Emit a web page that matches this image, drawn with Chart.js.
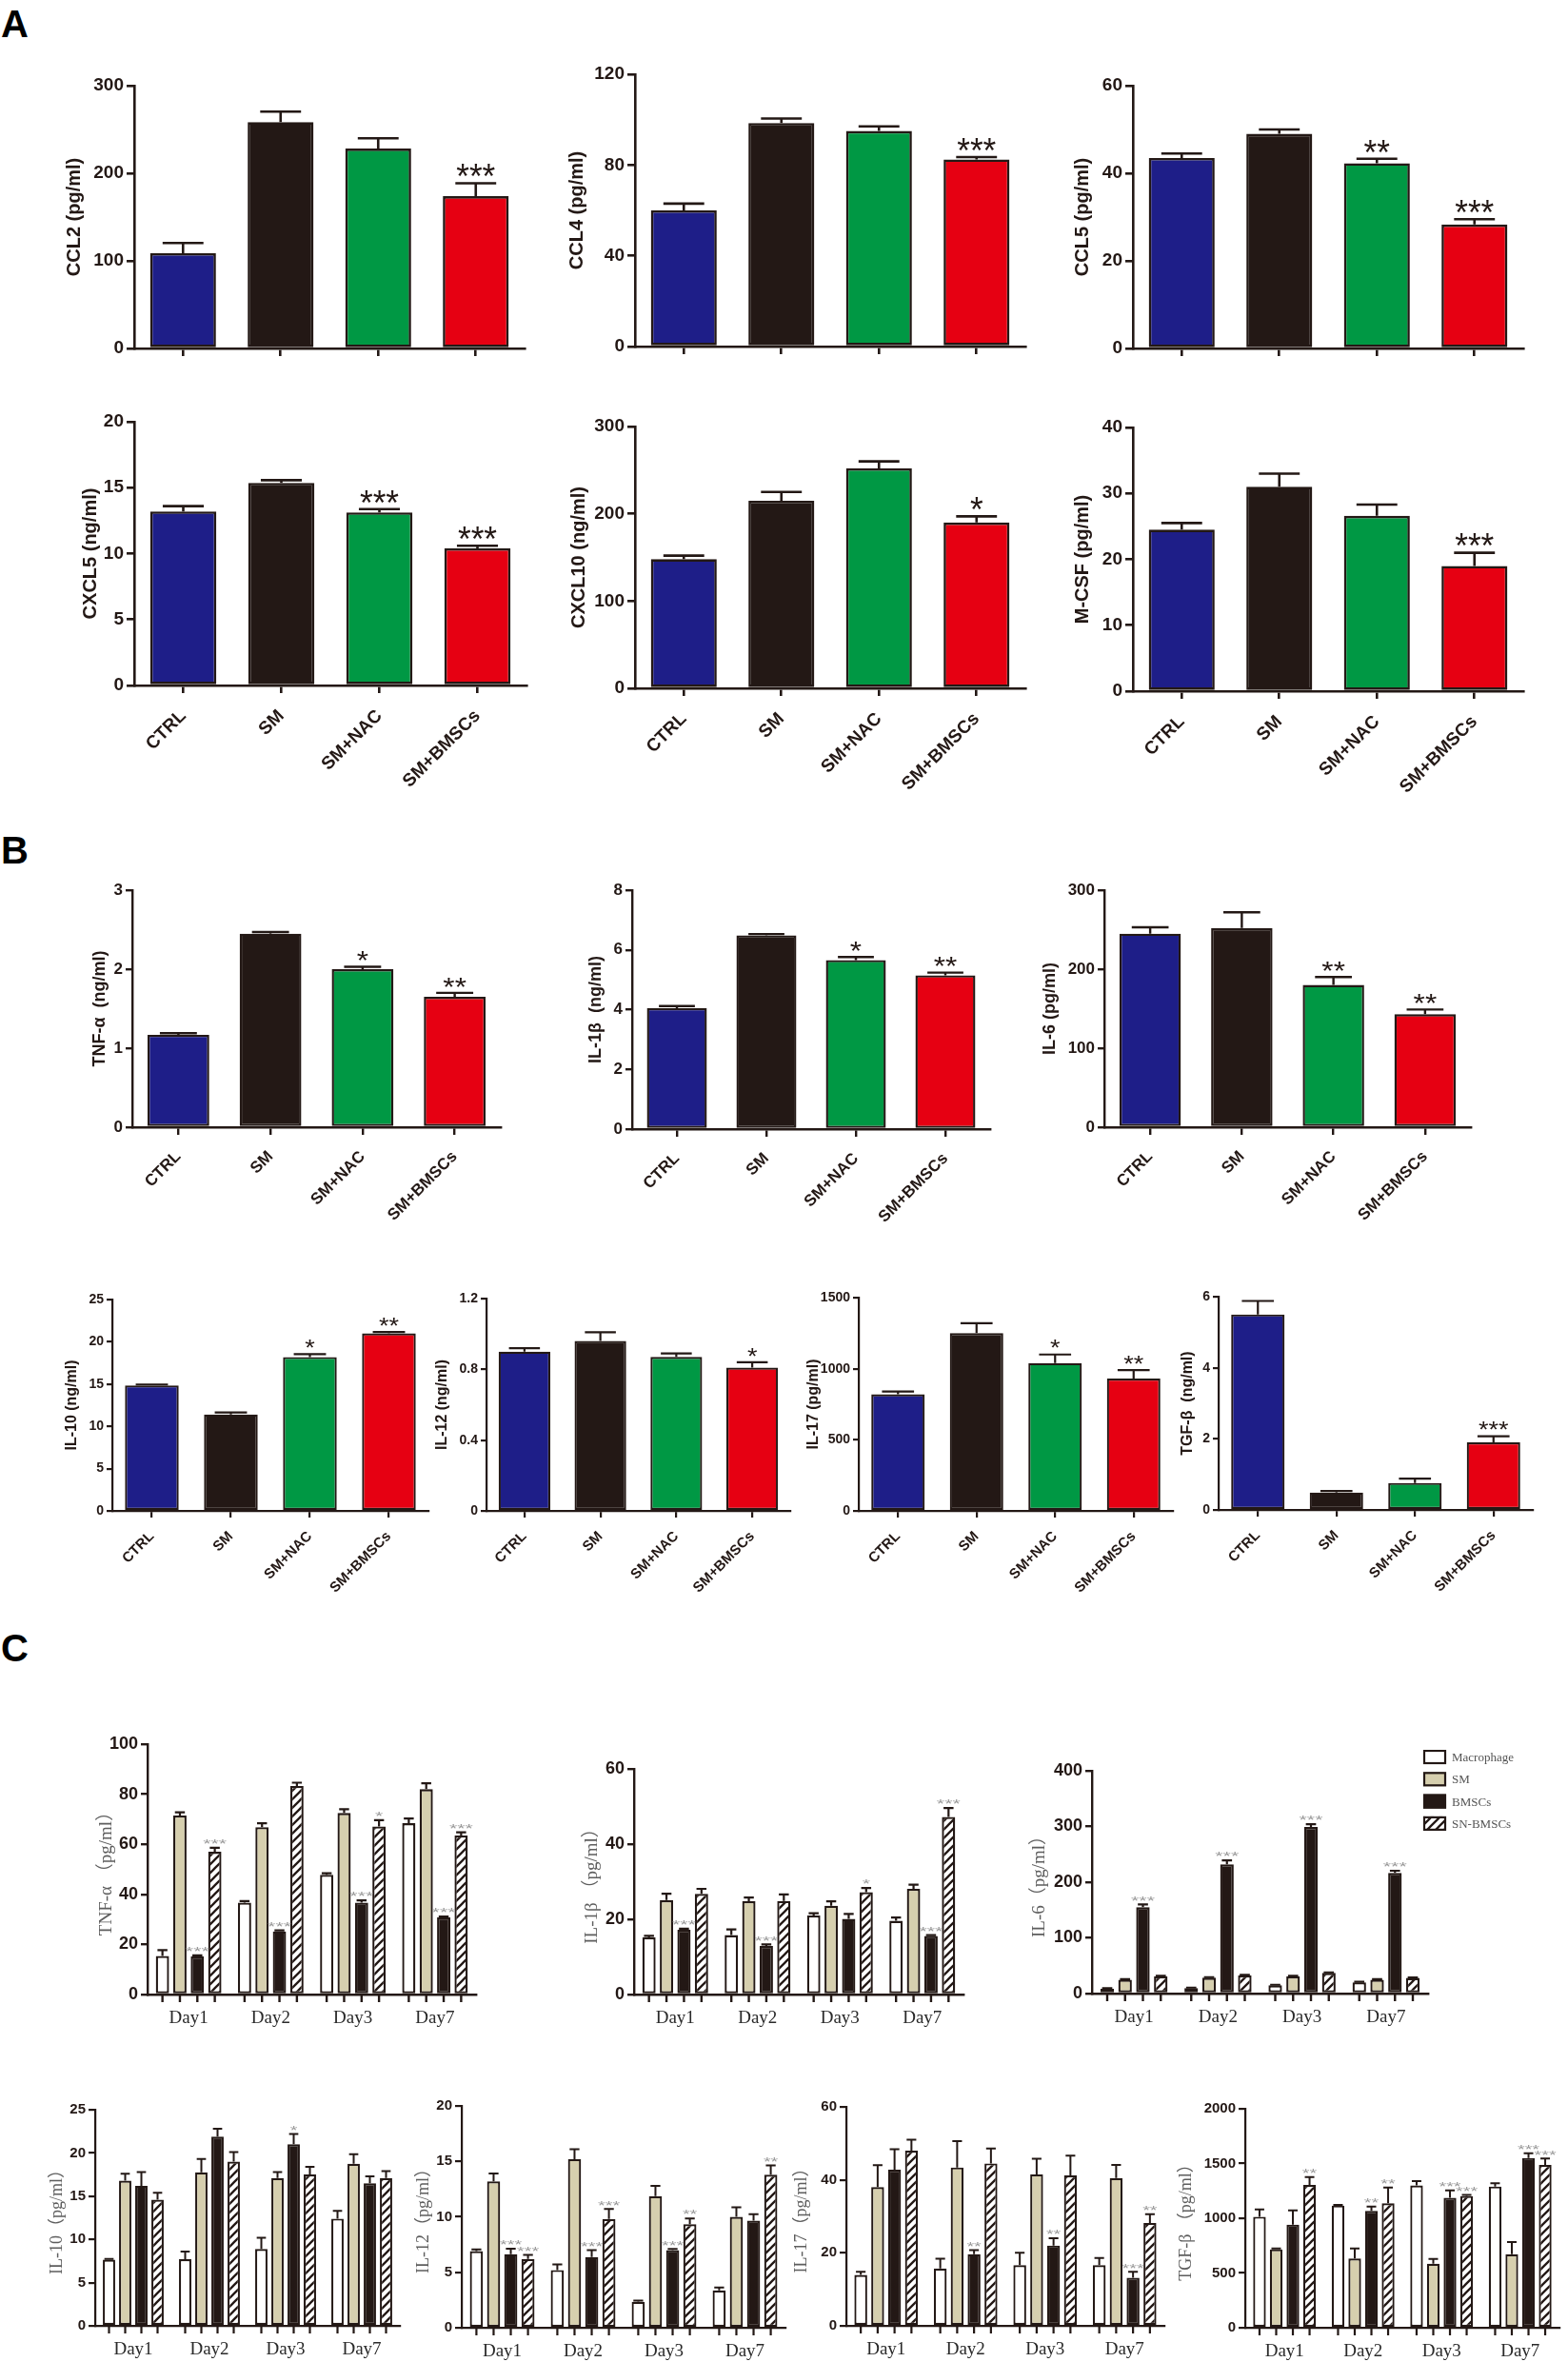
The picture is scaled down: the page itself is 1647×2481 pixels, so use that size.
<!DOCTYPE html>
<html><head><meta charset="utf-8">
<script src="https://cdn.jsdelivr.net/npm/chart.js@4.4.1/dist/chart.umd.min.js"></script>
<style>
html,body{margin:0;padding:0;background:#fff;}
#page{position:relative;width:1647px;height:2481px;overflow:hidden;background:#fff;}
.plab{position:absolute;font-family:"Liberation Sans",Arial,sans-serif;font-weight:bold;font-size:40px;line-height:40px;color:#000;}
</style></head><body>
<div id="page">
<div class="plab" style="left:1px;top:5px">A</div>
<div class="plab" style="left:1px;top:873px">B</div>
<div class="plab" style="left:1px;top:1711px">C</div>
</div>
<script>
// ---------------- DATA ----------------
const groups = ['CTRL', 'SM', 'SM+NAC', 'SM+BMSCs'];
const days = ['Day1', 'Day2', 'Day3', 'Day7'];
const cSeries = ['Macrophage', 'SM', 'BMSCs', 'SN-BMSCs'];

// Panel A
const ccl2 = [108.8, 258.3, 228.2, 173.8], ccl2Err = [11.6, 12, 11.8, 14.8], ccl2Sig = ['', '', '', '***'], ccl2Ticks = [0, 100, 200, 300];
const ccl4 = [60, 98.5, 95, 82.5], ccl4Err = [3, 2, 2, 1], ccl4Sig = ['', '', '', '***'], ccl4Ticks = [0, 40, 80, 120];
const ccl5 = [43.5, 49, 42.3, 28.3], ccl5Err = [1, 1, 1, 1.2], ccl5Sig = ['', '', '**', '***'], ccl5Ticks = [0, 20, 40, 60];
const cxcl5 = [13.2, 15.37, 13.13, 10.4], cxcl5Err = [0.4, 0.2, 0.25, 0.2], cxcl5Sig = ['', '', '***', '***'], cxcl5Ticks = [0, 5, 10, 15, 20];
const cxcl10 = [148, 215, 252, 190], cxcl10Err = [4, 10, 8, 7], cxcl10Sig = ['', '', '', '*'], cxcl10Ticks = [0, 100, 200, 300];
const mcsf = [24.5, 31, 26.6, 19], mcsfErr = [1, 2, 1.7, 2], mcsfSig = ['', '', '', '***'], mcsfTicks = [0, 10, 20, 30, 40];

// Panel B
const bTnf = [1.17, 2.45, 2.0, 1.65], bTnfErr = [0.02, 0.02, 0.03, 0.05], bTnfSig = ['', '', '*', '**'], bTnfTicks = [0, 1, 2, 3];
const bIl1b = [4.05, 6.49, 5.66, 5.15], bIl1bErr = [0.07, 0.04, 0.1, 0.09], bIl1bSig = ['', '', '*', '**'], bIl1bTicks = [0, 2, 4, 6, 8];
const bIl6 = [245, 252, 180, 143], bIl6Err = [8, 20, 10, 6], bIl6Sig = ['', '', '**', '**'], bIl6Ticks = [0, 100, 200, 300];
const bIl10 = [14.85, 11.4, 18.2, 21.0], bIl10Err = [0.1, 0.25, 0.35, 0.15], bIl10Sig = ['', '', '*', '**'], bIl10Ticks = [0, 5, 10, 15, 20, 25];
const bIl12 = [0.9, 0.96, 0.87, 0.81], bIl12Err = [0.02, 0.05, 0.02, 0.03], bIl12Sig = ['', '', '', '*'], bIl12Ticks = [0, 0.4, 0.8, 1.2];
const bIl17 = [820, 1250, 1040, 930], bIl17Err = [20, 70, 60, 60], bIl17Sig = ['', '', '*', '**'], bIl17Ticks = [0, 500, 1000, 1500];
const bTgf = [5.5, 0.49, 0.76, 1.9], bTgfErr = [0.38, 0.04, 0.12, 0.17], bTgfSig = ['', '', '', '***'], bTgfTicks = [0, 2, 4, 6];

// Panel C (rows: Macrophage, SM, BMSCs, SN-BMSCs; columns: Day1, Day2, Day3, Day7)
const cTnf = [[15.4, 36.7, 47.8, 68.4], [71.5, 66.8, 72.5, 82], [15.2, 25.2, 36.7, 30.8], [57, 83.3, 67.1, 63.5]];
const cTnfErr = [[2.3, 0.6, 0.6, 1.9], [1.3, 1.6, 1.5, 2.4], [0.4, 0.4, 0.9, 0.3], [1.6, 1.3, 2.5, 1.3]];
const cTnfSig = [['', '', '', ''], ['', '', '', ''], ['***', '***', '***', '***'], ['***', '', '*', '***']];
const cTnfTicks = [0, 20, 40, 60, 80, 100];

const cIl1b = [[15.2, 15.8, 21, 19.6], [25.1, 24.8, 23.6, 28.1], [17.2, 12.9, 20.1, 15.6], [26.8, 24.9, 27.2, 47.2]];
const cIl1bErr = [[0.4, 1.5, 0.6, 0.9], [1.7, 1.0, 1.2, 1.1], [0.3, 0.4, 1.3, 0.2], [1.3, 1.7, 1.1, 2.4]];
const cIl1bSig = [['', '', '', ''], ['', '', '', ''], ['***', '***', '', '***'], ['', '', '*', '***']];
const cIl1bTicks = [0, 20, 40, 60];

const cIl6 = [[8.5, 9.7, 14.8, 20], [25, 28.5, 30.8, 25], [155, 232, 299, 216.5], [30.8, 32.5, 37, 28]];
const cIl6Err = [[1, 1, 1, 1], [1, 1, 1, 1], [5, 7, 5, 4], [1, 1, 1, 1]];
const cIl6Sig = [['', '', '', ''], ['', '', '', ''], ['***', '***', '***', '***'], ['', '', '', '']];
const cIl6Ticks = [0, 100, 200, 300, 400];

const cIl10 = [[7.65, 7.7, 8.9, 12.4], [16.8, 17.75, 17.1, 18.75], [16.2, 21.9, 21, 16.5], [14.6, 19, 17.5, 17.1]];
const cIl10Err = [[0.1, 0.9, 1.3, 0.9], [0.8, 1.55, 0.7, 1.1], [1.6, 0.9, 1.2, 0.8], [0.8, 1.1, 0.9, 0.8]];
const cIl10Sig = [['', '', '', ''], ['', '', '', ''], ['', '', '*', ''], ['', '', '', '']];
const cIl10Ticks = [0, 5, 10, 15, 20, 25];

const cIl12 = [[6.9, 5.2, 2.34, 3.37], [13.2, 15.2, 11.86, 10], [6.63, 6.37, 7.0, 9.66], [6.2, 9.8, 9.34, 13.8]];
const cIl12Err = [[0.16, 0.5, 0.1, 0.26], [0.7, 0.9, 0.94, 0.86], [0.5, 0.63, 0.1, 0.57], [0.37, 0.9, 0.52, 0.83]];
const cIl12Sig = [['', '', '', ''], ['', '', '', ''], ['***', '***', '***', ''], ['***', '***', '**', '**']];
const cIl12Ticks = [0, 5, 10, 15, 20];

const cIl17 = [[13.95, 15.7, 16.65, 16.6], [38, 43.4, 41.5, 40.5], [42.8, 19.6, 22, 13.2], [48, 44.5, 41.2, 28.2]];
const cIl17Err = [[0.85, 2.7, 3.4, 2], [6, 7.2, 4.3, 3.6], [5.6, 1.15, 2, 1.6], [3, 4.1, 5.4, 2.4]];
const cIl17Sig = [['', '', '', ''], ['', '', '', ''], ['', '**', '**', '***'], ['', '', '', '**']];
const cIl17Ticks = [0, 20, 40, 60];

const cTgf = [[1014, 1116, 1299, 1290], [716, 632, 585, 672], [942, 1067, 1188, 1551], [1304, 1136, 1203, 1487]];
const cTgfErr = [[67, 6, 40, 29], [9, 93, 44, 111], [130, 40, 67, 43], [73, 145, 9, 58]];
const cTgfSig = [['', '', '', ''], ['', '', '', ''], ['', '**', '***', '***'], ['**', '**', '***', '***']];
const cTgfTicks = [0, 500, 1000, 1500, 2000];

// ---------------- STYLE ----------------
const INK = '#231815';
const SANS = '"Liberation Sans", Arial, sans-serif';
const SERIF = '"Liberation Serif", "Times New Roman", "Noto Sans CJK SC", serif';
const groupFills = ['#1e1e88', '#231815', '#009844', '#e60012'];
const TAN = '#d6cfae';

function hatchPattern() {
  const s = 9, c = document.createElement('canvas');
  c.width = s; c.height = s;
  const g = c.getContext('2d');
  g.fillStyle = '#fff'; g.fillRect(0, 0, s, s);
  g.strokeStyle = INK; g.lineWidth = 2.3;
  g.beginPath();
  g.moveTo(0, s); g.lineTo(s, 0);
  g.moveTo(-2, 2); g.lineTo(2, -2);
  g.moveTo(s - 2, s + 2); g.lineTo(s + 2, s - 2);
  g.stroke();
  return g.createPattern(c, 'repeat');
}
const cFills = ['#ffffff', TAN, '#231815', hatchPattern()];

const ST = {
  A:  {titleSize: 20, titleFamily: SANS, titleWeight: 'bold', titleColor: INK, tickSize: 19, xSize: 19, xFamily: SANS, xWeight: 'bold', xColor: INK,
       rot: 45, xPad: 13, xTickLen: 8, yTickLen: 8, axisW: 2.6, barBorder: 2.6, barPct: 0.675, catPct: 1, errW: 2.6, capR: 0.62,
       star: {adv: 13.7, h: 14, gap: 5, color: INK}},
  B1: {titleSize: 18, titleFamily: SANS, titleWeight: 'bold', titleColor: INK, tickSize: 17, xSize: 17, xFamily: SANS, xWeight: 'bold', xColor: INK,
       rot: 45, xPad: 13, xTickLen: 8, yTickLen: 7, axisW: 2.4, barBorder: 2.4, barPct: 0.67, catPct: 1, errW: 2.4, capR: 0.6,
       star: {adv: 12.3, h: 10.5, gap: 5, color: INK}},
  B2: {titleSize: 16, titleFamily: SANS, titleWeight: 'bold', titleColor: INK, tickSize: 14, xSize: 15, xFamily: SANS, xWeight: 'bold', xColor: INK,
       rot: 45, xPad: 11, xTickLen: 7, yTickLen: 6, axisW: 2.2, barBorder: 2.2, barPct: 0.68, catPct: 1, errW: 2.2, capR: 0.6,
       star: {adv: 10.5, h: 9, gap: 5, color: INK}},
  C1: {titleSize: 19, titleFamily: SERIF, titleWeight: 'normal', titleColor: '#5e5e5e', tickSize: 18, xSize: 19, xFamily: SERIF, xWeight: 'normal', xColor: '#2a2a2a',
       rot: 0, xPad: 14, xTickLen: 0, yTickLen: 7, axisW: 2.4, barBorder: 2.3, barPct: 0.76, catPct: 0.85, errW: 2.2, capR: 0.75, barTicks: 8,
       star: {adv: 8.3, h: 5, gap: 3, color: '#9a9a9a'}},
  C2: {titleSize: 18, titleFamily: SERIF, titleWeight: 'normal', titleColor: '#5e5e5e', tickSize: 15, xSize: 19, xFamily: SERIF, xWeight: 'normal', xColor: '#2a2a2a',
       rot: 0, xPad: 14, xTickLen: 0, yTickLen: 7, axisW: 2.2, barBorder: 2.2, barPct: 0.76, catPct: 0.85, errW: 2.0, capR: 0.75, barTicks: 8,
       star: {adv: 7.7, h: 5, gap: 3, color: '#9a9a9a'}}
};

const page = document.getElementById('page');

function drawStars(ctx, txt, cx, bottom, adv, h, color) {
  ctx.save();
  ctx.font = '40px "Liberation Sans", Arial, sans-serif';
  ctx.textAlign = 'center';
  ctx.textBaseline = 'alphabetic';
  const m = ctx.measureText(txt);
  const sx = (adv * txt.length) / m.width;
  const gh = m.actualBoundingBoxAscent + m.actualBoundingBoxDescent;
  const sy = h / gh;
  ctx.translate(cx, bottom);
  ctx.scale(sx, sy);
  ctx.fillStyle = color;
  ctx.fillText(txt, 0, -m.actualBoundingBoxDescent);
  ctx.restore();
}

function makeBar(geom, st, d) {
  const padTop = 22, padRight = geom.padRight || 8;
  const left = Math.round(geom.tx - 2 - 0.6 * st.titleSize);
  const yW = geom.ax - left;
  const top = geom.top - padTop;
  const xH = geom.xH;
  const w = geom.right - left + padRight;
  const h = padTop + (geom.zero - geom.top) + xH;
  const cv = document.createElement('canvas');
  cv.width = w; cv.height = h;
  cv.style.cssText = `position:absolute;left:${left}px;top:${top}px;width:${w}px;height:${h}px;`;
  page.appendChild(cv);

  const datasets = d.series.map(s => ({
    label: s.label, data: s.vals, backgroundColor: s.fill, borderColor: INK,
    borderWidth: st.barBorder, borderSkipped: false,
    barPercentage: st.barPct, categoryPercentage: st.catPct
  }));

  const overlay = {
    id: 'overlay',
    afterDatasetsDraw(chart) {
      const ctx = chart.ctx, ys = chart.scales.y, area = chart.chartArea;
      ctx.save();
      d.series.forEach((s, si) => {
        const meta = chart.getDatasetMeta(si);
        meta.data.forEach((el, j) => {
          const x = el.x, bw = el.width;
          const yv = ys.getPixelForValue(s.vals[j]);
          const ye = ys.getPixelForValue(s.vals[j] + s.errs[j]);
          ctx.strokeStyle = INK; ctx.lineWidth = st.errW; ctx.lineCap = 'butt';
          ctx.beginPath();
          ctx.moveTo(x, yv); ctx.lineTo(x, ye);
          const cw = bw * st.capR / 2;
          ctx.moveTo(x - cw, ye); ctx.lineTo(x + cw, ye);
          ctx.stroke();
          if (st.barTicks) {
            ctx.lineWidth = st.axisW;
            ctx.beginPath(); ctx.moveTo(x, area.bottom); ctx.lineTo(x, area.bottom + st.barTicks); ctx.stroke();
          }
          const sig = s.sigs ? s.sigs[j] : '';
          if (sig) drawStars(ctx, sig, x, ye - st.errW / 2 - st.star.gap, st.star.adv, st.star.h, st.star.color);
        });
      });
      if (geom.legend) {
        const L = geom.legend;
        d.series.forEach((s, i) => {
          const bx = L.x - left, by = L.y - top + i * L.pitch;
          ctx.fillStyle = s.fill; ctx.fillRect(bx, by, L.bw, L.bh);
          ctx.strokeStyle = INK; ctx.lineWidth = 2.2; ctx.strokeRect(bx + 1, by + 1, L.bw - 2, L.bh - 2);
          ctx.fillStyle = '#555'; ctx.font = `${L.size}px ${SERIF}`;
          ctx.textAlign = 'left'; ctx.textBaseline = 'middle';
          ctx.fillText(s.label, bx + L.bw + 6, by + L.bh / 2 + 1);
        });
      }
      ctx.restore();
    }
  };

  new Chart(cv, {
    type: 'bar',
    data: {labels: d.labels, datasets},
    options: {
      responsive: false, animation: false, devicePixelRatio: 1,
      layout: {padding: {top: padTop, right: padRight, left: 0, bottom: 0}},
      plugins: {legend: {display: false}, tooltip: {enabled: false}},
      scales: {
        x: {
          offset: true,
          grid: {display: !st.barTicks, offset: false, drawOnChartArea: false, drawTicks: !st.barTicks,
                 tickLength: st.xTickLen, color: INK, lineWidth: st.axisW},
          border: {display: true, color: INK, width: st.axisW},
          ticks: {display: geom.showX !== false, autoSkip: false, maxRotation: st.rot, minRotation: st.rot,
                  padding: st.xPad, color: st.xColor,
                  font: {family: st.xFamily, size: st.xSize, weight: st.xWeight}},
          afterFit: s => { s.height = xH; }
        },
        y: {
          min: 0, max: d.ticks[d.ticks.length - 1],
          afterBuildTicks: s => { s.ticks = d.ticks.map(v => ({value: v})); },
          grid: {drawOnChartArea: false, drawTicks: true, tickLength: st.yTickLen, color: INK, lineWidth: st.axisW},
          border: {display: true, color: INK, width: st.axisW},
          ticks: {padding: 3, color: INK, font: {family: SANS, size: st.tickSize, weight: 'bold'},
                  callback: v => String(+Number(v).toFixed(3))},
          title: {display: true, text: d.title, color: st.titleColor,
                  font: {family: st.titleFamily, size: st.titleSize, weight: st.titleWeight},
                  padding: {top: 2, bottom: 0}},
          afterFit: s => { s.width = yW; }
        }
      }
    },
    plugins: [overlay]
  });
}

function single(title, vals, errs, sigs, ticks) {
  return {title, labels: groups, ticks, series: [{label: title, vals, errs, sigs, fill: groupFills}]};
}
function multi(title, vals, errs, sigs, ticks) {
  return {title, labels: days, ticks,
    series: cSeries.map((lab, i) => ({label: lab, vals: vals[i], errs: errs[i], sigs: sigs[i], fill: cFills[i]}))};
}

// ---------------- PANEL A ----------------
makeBar({ax: 141, top: 90, zero: 366, right: 551, tx: 78, xH: 16, showX: false}, ST.A, single('CCL2 (pg/ml)', ccl2, ccl2Err, ccl2Sig, ccl2Ticks));
makeBar({ax: 667, top: 78, zero: 364, right: 1077, tx: 606, xH: 16, showX: false}, ST.A, single('CCL4 (pg/ml)', ccl4, ccl4Err, ccl4Sig, ccl4Ticks));
makeBar({ax: 1190, top: 90, zero: 366, right: 1600, tx: 1137, xH: 16, showX: false}, ST.A, single('CCL5 (pg/ml)', ccl5, ccl5Err, ccl5Sig, ccl5Ticks));
makeBar({ax: 141, top: 443, zero: 720, right: 553, tx: 95, xH: 130}, ST.A, single('CXCL5 (ng/ml)', cxcl5, cxcl5Err, cxcl5Sig, cxcl5Ticks));
makeBar({ax: 667, top: 448, zero: 723, right: 1077, tx: 608, xH: 130}, ST.A, single('CXCL10 (ng/ml)', cxcl10, cxcl10Err, cxcl10Sig, cxcl10Ticks));
makeBar({ax: 1190, top: 449, zero: 726, right: 1600, tx: 1137, xH: 130}, ST.A, single('M-CSF (pg/ml)', mcsf, mcsfErr, mcsfSig, mcsfTicks));

// ---------------- PANEL B ----------------
makeBar({ax: 139, top: 935, zero: 1184, right: 526, tx: 105, xH: 116}, ST.B1, single('TNF-α  (ng/ml)', bTnf, bTnfErr, bTnfSig, bTnfTicks));
makeBar({ax: 664, top: 935, zero: 1186, right: 1040, tx: 626, xH: 116}, ST.B1, single('IL-1β  (ng/ml)', bIl1b, bIl1bErr, bIl1bSig, bIl1bTicks));
makeBar({ax: 1160, top: 935, zero: 1184, right: 1545, tx: 1103, xH: 116}, ST.B1, single('IL-6 (pg/ml)', bIl6, bIl6Err, bIl6Sig, bIl6Ticks));
makeBar({ax: 118, top: 1365, zero: 1587, right: 450, tx: 76, xH: 98}, ST.B2, single('IL-10 (ng/ml)', bIl10, bIl10Err, bIl10Sig, bIl10Ticks));
makeBar({ax: 511, top: 1364, zero: 1587, right: 830, tx: 465, xH: 98}, ST.B2, single('IL-12 (ng/ml)', bIl12, bIl12Err, bIl12Sig, bIl12Ticks));
makeBar({ax: 902, top: 1363, zero: 1587, right: 1232, tx: 855, xH: 98}, ST.B2, single('IL-17 (pg/ml)', bIl17, bIl17Err, bIl17Sig, bIl17Ticks));
makeBar({ax: 1280, top: 1362, zero: 1586, right: 1610, tx: 1248, xH: 98}, ST.B2, single('TGF-β  (ng/ml)', bTgf, bTgfErr, bTgfSig, bTgfTicks));

// ---------------- PANEL C ----------------
makeBar({ax: 155, top: 1832, zero: 2095, right: 500, tx: 112, xH: 50}, ST.C1, multi('TNF-α （pg/ml）', cTnf, cTnfErr, cTnfSig, cTnfTicks));
makeBar({ax: 666, top: 1858, zero: 2095, right: 1012, tx: 622, xH: 50}, ST.C1, multi('IL-1β （pg/ml）', cIl1b, cIl1bErr, cIl1bSig, cIl1bTicks));
makeBar({ax: 1147, top: 1860, zero: 2094, right: 1500, tx: 1092, xH: 50, padRight: 140,
         legend: {x: 1495, y: 1838, pitch: 23.3, bw: 24, bh: 15, size: 13}}, ST.C1, multi('IL-6（pg/ml）', cIl6, cIl6Err, cIl6Sig, cIl6Ticks));
makeBar({ax: 100, top: 2216, zero: 2443, right: 420, tx: 60, xH: 36}, ST.C2, multi('IL-10（pg/ml）', cIl10, cIl10Err, cIl10Sig, cIl10Ticks));
makeBar({ax: 485, top: 2212, zero: 2445, right: 825, tx: 445, xH: 36}, ST.C2, multi('IL-12（pg/ml）', cIl12, cIl12Err, cIl12Sig, cIl12Ticks));
makeBar({ax: 889, top: 2213, zero: 2443, right: 1223, tx: 842, xH: 36}, ST.C2, multi('IL-17（pg/ml）', cIl17, cIl17Err, cIl17Sig, cIl17Ticks));
makeBar({ax: 1308, top: 2215, zero: 2445, right: 1638, tx: 1246, xH: 36, padRight: 4}, ST.C2, multi('TGF-β （pg/ml）', cTgf, cTgfErr, cTgfSig, cTgfTicks));
</script>
</body></html>
